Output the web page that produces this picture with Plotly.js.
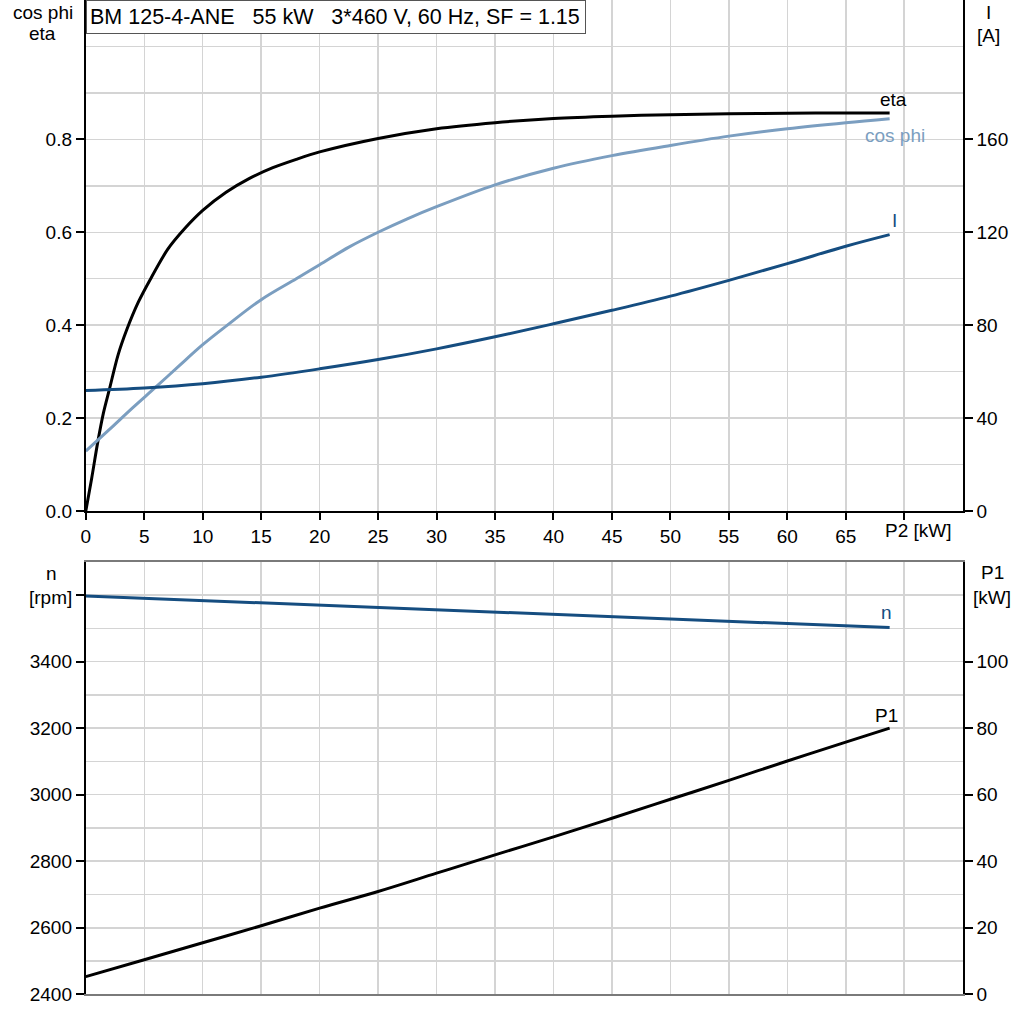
<!DOCTYPE html>
<html>
<head>
<meta charset="utf-8">
<script src="https://cdn.plot.ly/plotly-3.0.1.min.js"></script>
<style>html,body{margin:0;padding:0;background:#fff;}#chart{width:1024px;height:1024px;}</style>
</head>
<body>
<div id="chart"></div>
<script>
// ---- data ----
const p2Eta = [0,0.5,1,1.5,2,2.75,3.5,4.5,5.5,7,8.5,10,12,14,16,18,20,25,30,35,40,45,50,55,60,65,68.75];
const eta   = [0,0.07,0.145,0.21,0.26,0.335,0.39,0.45,0.498,0.563,0.609,0.647,0.686,0.716,0.739,0.757,0.773,0.802,0.823,0.836,0.845,0.850,0.853,0.855,0.856,0.857,0.857];

const p2Cos  = [0,2,4,6,8,10,12,15,18,20,22.5,25,27.5,30,35,40,45,50,55,60,65,68.75];
const cosPhi = [0.129,0.175,0.222,0.267,0.313,0.358,0.398,0.455,0.500,0.530,0.568,0.600,0.629,0.655,0.702,0.738,0.765,0.787,0.807,0.823,0.836,0.8445];

const p2I     = [0,5,10,15,20,25,30,35,40,45,50,55,60,65,68.75];
const current = [51.9,53.0,54.8,57.6,61.2,65.2,69.8,75.0,80.6,86.4,92.5,99.3,106.5,114.0,119.0];

const p2N   = [0,5,10,15,20,30,40,50,60,68.75];
const speed = [3597,3590,3583,3577,3571,3557,3543,3529,3514,3502];

const p2P1 = [0,5,10,15,20,25,30,35,40,45,50,55,60,65,68.75];
const p1   = [5.3,10.4,15.5,20.6,25.9,30.9,36.4,41.9,47.3,52.9,58.6,64.3,70.1,75.8,80.0];

const xTicks = [0,5,10,15,20,25,30,35,40,45,50,55,60,65,70];
const xTickText = ['0','5','10','15','20','25','30','35','40','45','50','55','60','65',''];
const yTicks = [0,0.2,0.4,0.6,0.8];
const yTickText = ['0.0','0.2','0.4','0.6','0.8'];
const yMinor = [0.1,0.3,0.5,0.7,0.9,1.0];
const iTicks = [0,40,80,120,160];
const nTicks = [2400,2600,2800,3000,3200,3400,3600];
const nTickText = ['2400','2600','2800','3000','3200','3400',''];
const nMinor = [2500,2700,2900,3100,3300,3500];
const p1Ticks = [0,20,40,60,80,100];

const titleText = 'BM 125-4-ANE&nbsp;&nbsp;&nbsp;55 kW&nbsp;&nbsp;&nbsp;3*460 V, 60 Hz, SF = 1.15';

// ---- styling ----
const FONT = 'Arial, "Liberation Sans", sans-serif';
const FS = 19;
const DARK = '#154d80';
const LIGHT = '#7b9ec0';
const GRID = '#d4d4d4';
const X0 = 85.8/1024, X1 = 962.7/1024;
const last = a => a[a.length-1];

const traces = [
  {x:p2Eta, y:eta, xaxis:'x', yaxis:'y', mode:'lines', line:{color:'#000', width:3, shape:'spline', smoothing:0.8}},
  {x:p2Cos, y:cosPhi, xaxis:'x', yaxis:'y', mode:'lines', line:{color:LIGHT, width:3, shape:'spline', smoothing:1}},
  {x:p2I, y:current, xaxis:'x', yaxis:'y2', mode:'lines', line:{color:DARK, width:3, shape:'spline', smoothing:1}},
  {x:p2N, y:speed, xaxis:'x2', yaxis:'y3', mode:'lines', line:{color:DARK, width:3}},
  {x:p2P1, y:p1, xaxis:'x2', yaxis:'y4', mode:'lines', line:{color:'#000', width:3, shape:'spline', smoothing:1}}
];

const axisCommon = {
  showline:true, linewidth:2, linecolor:'#000', zeroline:false,
  ticks:'outside', ticklen:8, tickwidth:2, tickcolor:'#000',
  tickfont:{family:FONT, size:FS, color:'#000'},
  gridcolor:GRID, gridwidth:1.5, fixedrange:true
};

const layout = {
  width:1024, height:1024,
  margin:{l:0, r:0, t:0, b:0},
  paper_bgcolor:'#fff', plot_bgcolor:'#fff',
  showlegend:false,
  font:{family:FONT, size:FS, color:'#000'},
  xaxis: Object.assign({}, axisCommon, {
    domain:[X0, X1], anchor:'y', range:[0,75], ticklen:7,
    tickmode:'array', tickvals:xTicks, ticktext:xTickText,
    showgrid:true, mirror:true
  }),
  yaxis: Object.assign({}, axisCommon, {
    domain:[1-511/1024, 1], anchor:'x', range:[0,1.1],
    tickmode:'array', tickvals:yTicks, ticktext:yTickText, showgrid:true,
    minor:{tickmode:'array', tickvals:yMinor, showgrid:true, gridcolor:GRID, gridwidth:1.5, ticks:''}
  }),
  yaxis2: Object.assign({}, axisCommon, {
    overlaying:'y', side:'right', anchor:'x', range:[0,220],
    tickmode:'array', tickvals:iTicks, showgrid:false
  }),
  xaxis2: Object.assign({}, axisCommon, {
    domain:[X0, X1], anchor:'y3', range:[0,75],
    tickmode:'array', tickvals:xTicks, showticklabels:false, ticks:'',
    showgrid:true, linecolor:'#7a7a7a', mirror:true
  }),
  yaxis3: Object.assign({}, axisCommon, {
    domain:[1-994.3/1024, 1-561.7/1024], anchor:'x2', range:[2400,3700],
    tickmode:'array', tickvals:nTicks, ticktext:nTickText, showgrid:true,
    minor:{tickmode:'array', tickvals:nMinor, showgrid:true, gridcolor:GRID, gridwidth:1.5, ticks:''}
  }),
  yaxis4: Object.assign({}, axisCommon, {
    overlaying:'y3', side:'right', anchor:'x2', range:[0,130],
    tickmode:'array', tickvals:p1Ticks, showgrid:false
  }),
  annotations:[
    {xref:'paper', yref:'paper', x:X0, y:1, xanchor:'left', yanchor:'top',
     text:titleText, showarrow:false, align:'left', width:492, height:26,
     font:{family:FONT, size:21.5, color:'#000'}, bgcolor:'#fff', bordercolor:'#555', borderwidth:1, borderpad:3},
    {xref:'paper', yref:'paper', x:43/1024, y:1-12.7/1024, xanchor:'center', yanchor:'middle', text:'cos phi', showarrow:false},
    {xref:'paper', yref:'paper', x:42/1024, y:1-33/1024, xanchor:'center', yanchor:'middle', text:'eta', showarrow:false},
    {xref:'paper', yref:'paper', x:988/1024, y:1-12/1024, xanchor:'center', yanchor:'middle', text:'I', showarrow:false},
    {xref:'paper', yref:'paper', x:988/1024, y:1-35/1024, xanchor:'center', yanchor:'middle', text:'[A]', showarrow:false},
    {xref:'paper', yref:'paper', x:918/1024, y:1-530/1024, xanchor:'center', yanchor:'middle', text:'P2 [kW]', showarrow:false},
    {xref:'paper', yref:'paper', x:51/1024, y:1-573/1024, xanchor:'center', yanchor:'middle', text:'n', showarrow:false},
    {xref:'paper', yref:'paper', x:50/1024, y:1-597/1024, xanchor:'center', yanchor:'middle', text:'[rpm]', showarrow:false},
    {xref:'paper', yref:'paper', x:992/1024, y:1-572/1024, xanchor:'center', yanchor:'middle', text:'P1', showarrow:false},
    {xref:'paper', yref:'paper', x:992/1024, y:1-597/1024, xanchor:'center', yanchor:'middle', text:'[kW]', showarrow:false},
    {xref:'x', yref:'y', x:last(p2Eta), y:last(eta), xshift:4, yshift:13, xanchor:'center', yanchor:'middle', text:'eta', showarrow:false, font:{color:'#000'}},
    {xref:'x', yref:'y', x:last(p2Cos), y:last(cosPhi), xshift:5, yshift:-17, xanchor:'center', yanchor:'middle', text:'cos phi', showarrow:false, font:{color:LIGHT}},
    {xref:'x', yref:'y2', x:last(p2I), y:last(current), xshift:5, yshift:14, xanchor:'center', yanchor:'middle', text:'I', showarrow:false, font:{color:DARK}},
    {xref:'x2', yref:'y3', x:last(p2N), y:last(speed), xshift:-3, yshift:15, xanchor:'center', yanchor:'middle', text:'n', showarrow:false, font:{color:DARK}},
    {xref:'x2', yref:'y4', x:last(p2P1), y:last(p1), xshift:-3, yshift:13, xanchor:'center', yanchor:'middle', text:'P1', showarrow:false, font:{color:'#000'}}
  ]
};

Plotly.newPlot('chart', traces, layout, {staticPlot:true, displayModeBar:false});
</script>
</body>
</html>
